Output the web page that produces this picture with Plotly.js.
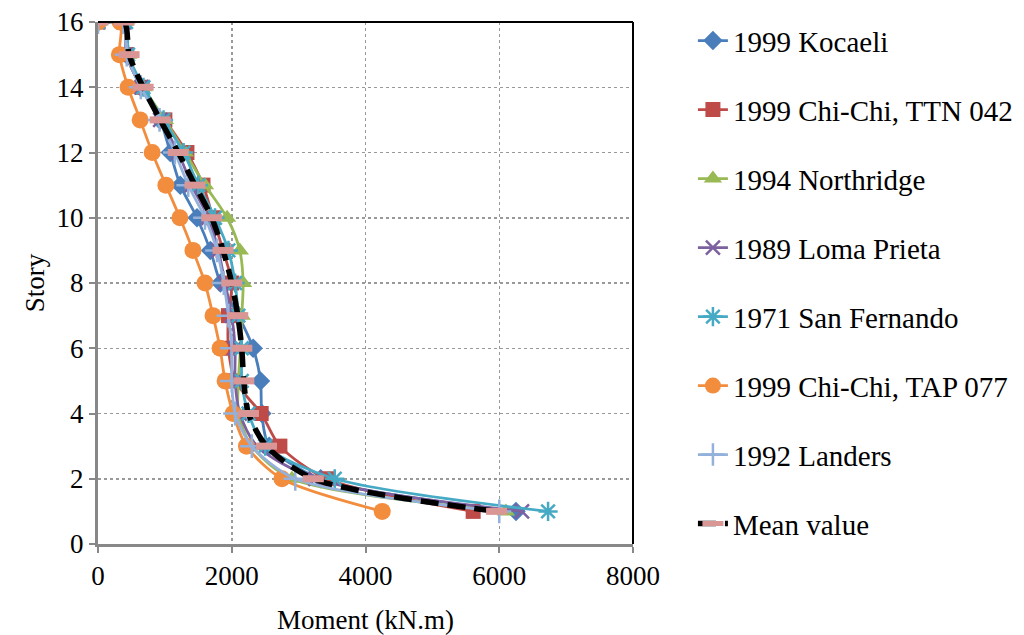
<!DOCTYPE html>
<html>
<head>
<meta charset="utf-8">
<script src="https://cdn.plot.ly/plotly-3.0.1.min.js"></script>
<style>html,body{margin:0;padding:0;background:#fff;}#chart{width:1024px;height:635px;}</style>
</head>
<body>
<div id="chart"></div>
<script>
// Story levels (top point repeated: zero moment at roof, then story 16 value)
const stories = [16, 16, 15, 14, 13, 12, 11, 10, 9, 8, 7, 6, 5, 4, 3, 2, 1];

const kocaeli      = [0, 400, 430, 640, 930, 1080, 1230, 1480, 1680, 1830, 2100, 2320, 2430, 2450, 2560, 3330, 6250];
const chichiTTN042 = [0, 380, 430, 660, 1000, 1330, 1570, 1720, 1870, 2000, 1950, 1950, 2050, 2440, 2720, 3420, 5610];
const northridge   = [0, 400, 450, 680, 1000, 1300, 1600, 1930, 2120, 2170, 2150, 2130, 2100, 2100, 2300, 2900, 6100];
const lomaPrieta   = [0, 400, 420, 650, 930, 1200, 1400, 1650, 1800, 1900, 2000, 2050, 2050, 2120, 2380, 3250, 6340];
const sanFernando  = [0, 420, 450, 680, 980, 1280, 1500, 1750, 1950, 2050, 2100, 2150, 2150, 2250, 2500, 3540, 6730];
const chichiTAP077 = [0, 330, 320, 450, 630, 810, 1015, 1225, 1420, 1600, 1720, 1825, 1900, 2020, 2220, 2750, 4250];
const landers      = [0, 380, 430, 640, 920, 1150, 1350, 1600, 1780, 1880, 1950, 2000, 2000, 2050, 2300, 2950, 6000];
const meanValue    = [0, 390, 465, 675, 930, 1200, 1450, 1700, 1870, 2000, 2090, 2150, 2180, 2250, 2520, 3220, 5960];

const seriesNames = ["1999 Kocaeli", "1999 Chi-Chi, TTN 042", "1994 Northridge", "1989 Loma Prieta",
                     "1971 San Fernando", "1999 Chi-Chi, TAP 077", "1992 Landers", "Mean value"];

const xTicks = [0, 2000, 4000, 6000, 8000];
const yTicks = [0, 2, 4, 6, 8, 10, 12, 14, 16];

const FAMILY = "'Liberation Serif', 'Times New Roman', 'DejaVu Serif', serif";
const font = {family: FAMILY, size: 27, color: "#000"};
const legendFont = {family: FAMILY, size: 29, color: "#000"};

function tr(name, x, color, symbol, size, extra) {
  const t = {
    type: "scatter", mode: "lines+markers", name: name, x: x, y: stories,
    legendgroup: name,
    line: {color: color, width: 2.8, shape: "spline", smoothing: 0.8},
    marker: {symbol: symbol, size: size, color: color, line: {color: color, width: 0}}
  };
  if (extra) extra(t);
  return t;
}

const data = [
  tr(seriesNames[0], kocaeli, "#4A7EBB", "diamond", 15),
  tr(seriesNames[1], chichiTTN042, "#BE4B48", "square", 15),
  tr(seriesNames[2], northridge, "#98B954", "triangle-up", 16),
  tr(seriesNames[3], lomaPrieta, "#7D60A0", "x-thin-open", 14, t => { t.marker.line.width = 2.5; }),
  tr(seriesNames[4], sanFernando, "#46AAC5", "asterisk-open", 16, t => { t.marker.line.width = 2.5; }),
  tr(seriesNames[5], chichiTAP077, "#F38D3E", "circle", 17),
  tr(seriesNames[6], landers, "#93B1DA", "cross-thin-open", 17, t => { t.marker.line.width = 2.5; }),
  tr(seriesNames[7], meanValue, "#000000", "line-ew-open", 15, t => {
    t.line.width = 5.5; t.line.dash = "18px,9px";
    t.marker.color = "#DA9694"; t.marker.line = {color: "#DA9694", width: 7};
  })
];

const layout = {
  width: 1024, height: 635,
  paper_bgcolor: "#fff", plot_bgcolor: "#fff",
  margin: {l: 98, r: 391, t: 22, b: 91, autoexpand: false},
  font: font,
  showlegend: true,
  legend: {
    x: 1.112, xanchor: "left", y: 1.013, yanchor: "top",
    font: legendFont, traceorder: "grouped", tracegroupgap: 28.3,
    maxheight: 1,
    bgcolor: "rgba(0,0,0,0)"
  },
  xaxis: {
    range: [0, 8000], tickvals: xTicks, ticktext: xTicks.map(String),
    showgrid: true, gridcolor: "#999", griddash: "dot", gridwidth: 1.5,
    zeroline: false, showline: true, linecolor: "#888", linewidth: 3,
    ticks: "outside", ticklen: 6, tickcolor: "#888", tickwidth: 2,
    title: {text: "Moment (kN.m)", font: font, standoff: 20},
    tickfont: font
  },
  yaxis: {
    range: [0, 16], tickvals: yTicks, ticktext: yTicks.map(String),
    showgrid: true, gridcolor: "#999", griddash: "dot", gridwidth: 1.5,
    zeroline: false, showline: true, linecolor: "#888", linewidth: 3,
    ticks: "outside", ticklen: 6, tickcolor: "#888", tickwidth: 2,
    title: {text: "Story", font: font, standoff: 5},
    tickfont: font
  },
  shapes: [
    {type: "line", xref: "paper", yref: "paper", x0: 0, x1: 1, y0: 1, y1: 1, line: {color: "#000", width: 2}},
    {type: "line", xref: "paper", yref: "paper", x0: 1, x1: 1, y0: 0, y1: 1, line: {color: "#000", width: 2}}
  ]
};

Plotly.newPlot("chart", data, layout, {displayModeBar: false, staticPlot: true});
</script>
</body>
</html>
